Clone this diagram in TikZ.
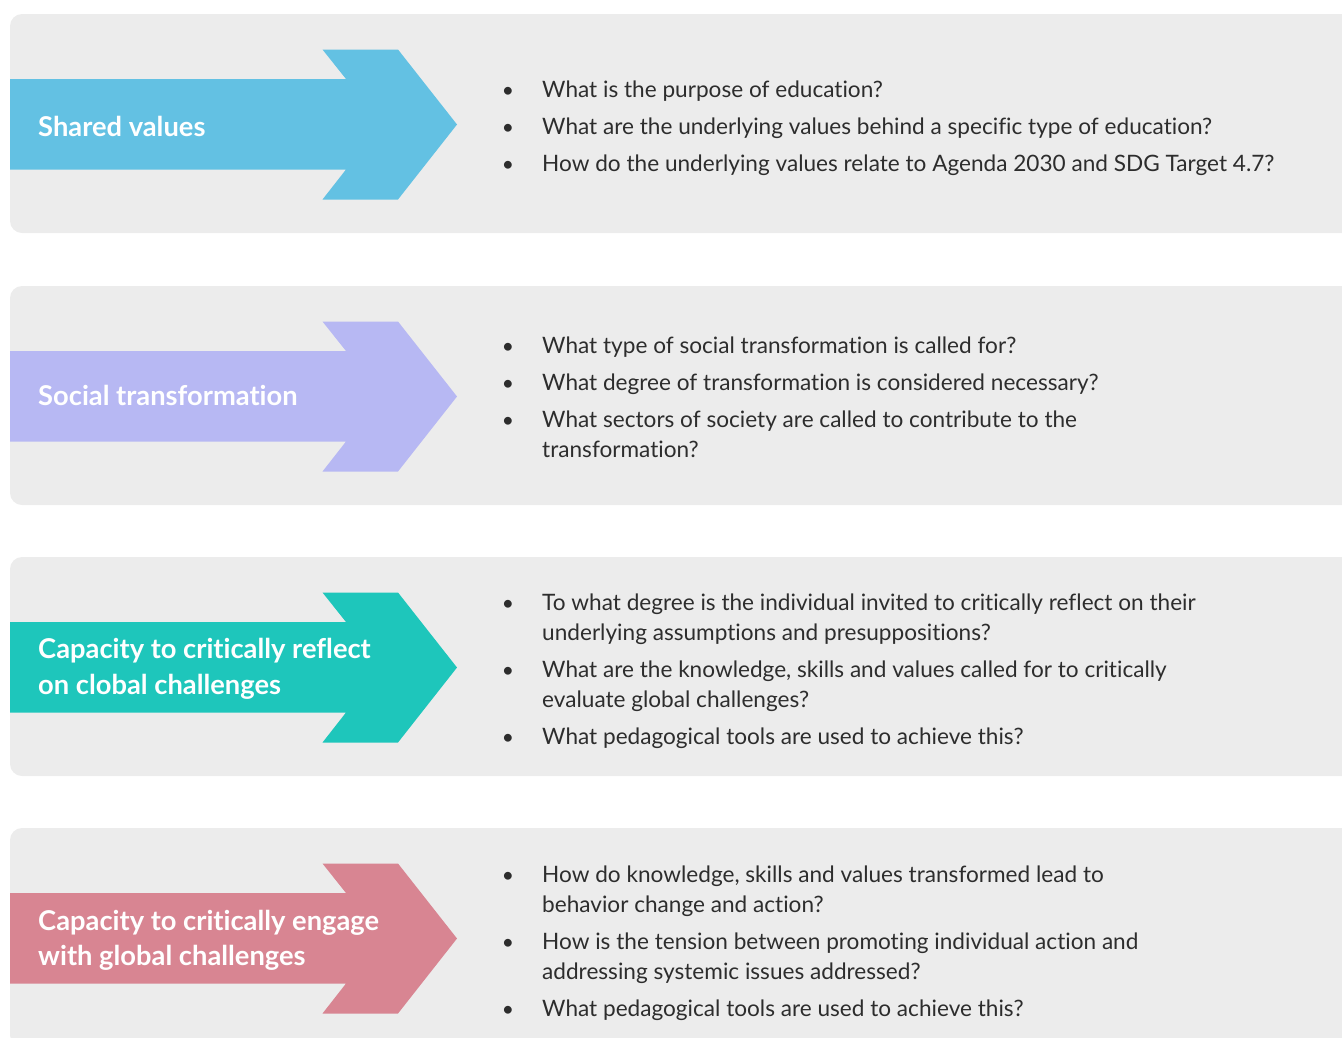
\documentclass[tikz,border=0pt]{standalone}
\usepackage{fontspec}
\setmainfont{Lato}[Ligatures=CommonOff]
\definecolor{panelgray}{RGB}{236,236,236}
\definecolor{txtcol}{RGB}{45,45,45}
\definecolor{cblue}{RGB}{99,193,227}
\definecolor{clav}{RGB}{183,184,243}
\definecolor{cteal}{RGB}{30,198,187}
\definecolor{cpink}{RGB}{216,133,146}
\tikzset{
  panel/.style={fill=panelgray, rounded corners=12pt},
  lbl/.style={anchor=base west, text=white, inner sep=0pt, font=\bfseries\fontsize{27.3}{34}\selectfont},
  qline/.style={anchor=base west, text=txtcol, inner sep=0pt, font=\fontsize{22.6}{30}\selectfont},
  bul/.style={anchor=base, text=txtcol, inner sep=0pt, font=\fontsize{21}{30}\selectfont}
}
\begin{document}
\begin{tikzpicture}[x=1pt,y=-1pt]
\useasboundingbox (0,0) rectangle (1342,1037);
\clip (0,0) rectangle (1342,1037);
% panels and arrows
\foreach \T/\C [count=\i] in {14/cblue,286/clav,557/cteal,828/cpink}{
  \fill[panel] (10,\T) rectangle (1380,\T+219);
  \fill[\C] (10,\T+65) -- (346,\T+65) -- (322.5,\T+35.5) -- (398,\T+35.5) -- (457,\T+110.5)
     -- (398,\T+185.5) -- (322.5,\T+185.5) -- (346,\T+155.5) -- (10,\T+155.5) -- cycle;
}
% labels
\node[lbl] (l1) at (38,136) {Shared values};
\node[lbl] (l2) at (38,405) {Social transformation};
\node[lbl] (l3a) at (38,658) {Capacity to critically reflect};
\node[lbl] (l3b) at (38,694) {on clobal challenges};
\node[lbl] (l4a) at (38,930) {Capacity to critically engage};
\node[lbl] (l4b) at (38,965) {with global challenges};
% panel 1
\node[bul] (b11) at (508,97) {•};
\node[qline] (q11) at (542,97) {What is the purpose of education?};
\node[bul] (b12) at (508,134) {•};
\node[qline] (q12) at (542,134) {What are the underlying values behind a specific type of education?};
\node[bul] (b13) at (508,171) {•};
\node[qline] (q13) at (542,171) {How do the underlying values relate to Agenda 2030 and SDG Target 4.7?};
% panel 2
\node[bul] (b21) at (508,353) {•};
\node[qline] (q21) at (542,353) {What type of social transformation is called for?};
\node[bul] (b22) at (508,390) {•};
\node[qline] (q22) at (542,390) {What degree of transformation is considered necessary?};
\node[bul] (b23) at (508,427) {•};
\node[qline] (q23) at (542,427) {What sectors of society are called to contribute to the};
\node[qline] (q23b) at (542,457) {transformation?};
% panel 3
\node[bul] (b31) at (508,610) {•};
\node[qline] (q31) at (542,610) {To what degree is the individual invited to critically reflect on their};
\node[qline] (q31b) at (542,640) {underlying assumptions and presuppositions?};
\node[bul] (b32) at (508,677) {•};
\node[qline] (q32) at (542,677) {What are the knowledge, skills and values called for to critically};
\node[qline] (q32b) at (542,707) {evaluate global challenges?};
\node[bul] (b33) at (508,744) {•};
\node[qline] (q33) at (542,744) {What pedagogical tools are used to achieve this?};
% panel 4
\node[bul] (b41) at (508,882) {•};
\node[qline] (q41) at (542,882) {How do knowledge, skills and values transformed lead to};
\node[qline] (q41b) at (542,912) {behavior change and action?};
\node[bul] (b42) at (508,949) {•};
\node[qline] (q42) at (542,949) {How is the tension between promoting individual action and};
\node[qline] (q42b) at (542,979) {addressing systemic issues addressed?};
\node[bul] (b43) at (508,1016) {•};
\node[qline] (q43) at (542,1016) {What pedagogical tools are used to achieve this?};
\end{tikzpicture}
\end{document}
